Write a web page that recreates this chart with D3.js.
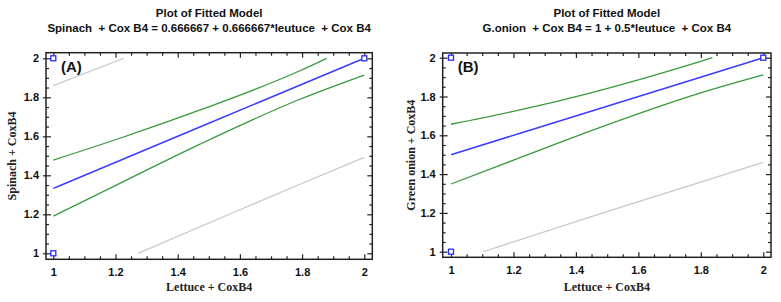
<!DOCTYPE html>
<html>
<head>
<meta charset="utf-8">
<script src="https://cdn.jsdelivr.net/npm/d3@7"></script>
<style>
  body { margin: 0; background: #fff; }
  svg { display: block; }
</style>
</head>
<body>
<svg id="chart" width="781" height="302"></svg>
<script>
// Tick values shared by both panels
const xTicks = [1, 1.2, 1.4, 1.6, 1.8, 2];
const yTicks = [1, 1.2, 1.4, 1.6, 1.8, 2];
const xTickLabels = ["1", "1.2", "1.4", "1.6", "1.8", "2"];
const yTickLabels = ["1", "1.2", "1.4", "1.6", "1.8", "2"];
const minorTicks = [1.05, 1.1, 1.15, 1.25, 1.3, 1.35, 1.45, 1.5, 1.55, 1.65, 1.7, 1.75, 1.85, 1.9, 1.95];

// Panel A - spinach
const spinachObs = [[1, 1], [1, 2], [2, 2]];
const spinachFitted = [[1, 1.333], [1.5, 1.667], [2, 2.0]];
const spinachUpperCL = [[1, 1.478], [1.214, 1.590], [1.472, 1.735], [1.793, 1.936], [1.879, 2.0]];
const spinachLowerCL = [[1, 1.191], [1.214, 1.359], [1.472, 1.560], [1.793, 1.790], [2, 1.914]];
const spinachUpperPL = [[1, 1.86], [1.227, 2.0]];
const spinachLowerPL = [[1.273, 1.0], [1.6, 1.223], [1.793, 1.354], [2, 1.492]];

// Panel B - green onion
const onionObs = [[1, 1], [1, 2], [2, 2]];
const onionFitted = [[1, 1.5], [1.5, 1.75], [2, 2.0]];
const onionUpperCL = [[1, 1.657], [1.221, 1.731], [1.445, 1.818], [1.797, 1.980], [1.837, 2.0]];
const onionLowerCL = [[1, 1.349], [1.221, 1.485], [1.445, 1.622], [1.797, 1.818], [2, 1.912]];
const onionLowerPL = [[1.103, 1.0], [1.509, 1.212], [1.797, 1.357], [2, 1.461]];

const panels = [
  {
    title: "Plot of Fitted Model",
    subtitle: "Spinach  + Cox B4 = 0.666667 + 0.666667*leutuce  + Cox B4",
    tag: "(A)",
    yTitle: "Spinach + CoxB4",
    xTitle: "Lettuce + CoxB4",
    obs: spinachObs, fitted: spinachFitted,
    cl: [spinachUpperCL, spinachLowerCL],
    pl: [spinachUpperPL, spinachLowerPL],
    xRange: [53.3, 364.3], yRange: [253.3, 58.3],
    frame: { x0: 46, x1: 372.3, y0: 52.7, y1: 259.3 },
    yTitleX: 15.5
  },
  {
    title: "Plot of Fitted Model",
    subtitle: "G.onion  + Cox B4 = 1 + 0.5*leutuce  + Cox B4",
    tag: "(B)",
    yTitle: "Green onion + CoxB4",
    xTitle: "Lettuce + CoxB4",
    obs: onionObs, fitted: onionFitted,
    cl: [onionUpperCL, onionLowerCL],
    pl: [onionLowerPL],
    xRange: [451, 763.3], yRange: [251.7, 57.7],
    frame: { x0: 442.7, x1: 771, y0: 53, y1: 257.3 },
    yTitleX: 415
  }
];

const svg = d3.select("#chart");
const sans = "'Liberation Sans', Arial, sans-serif";
const serif = "'Liberation Serif', 'Times New Roman', serif";

panels.forEach(p => {
  const x = d3.scaleLinear().domain([1, 2]).range(p.xRange);
  const y = d3.scaleLinear().domain([1, 2]).range(p.yRange);
  const f = p.frame;
  const cx = (f.x0 + f.x1) / 2;
  const g = svg.append("g");

  // Titles
  g.append("text")
    .attr("x", cx).attr("y", 16.5)
    .attr("text-anchor", "middle")
    .style("font-family", sans).style("font-weight", "bold").style("font-size", "11.5px")
    .attr("fill", "#111")
    .text(p.title);

  g.append("text")
    .attr("x", cx).attr("y", 31.5)
    .attr("text-anchor", "middle")
    .style("font-family", sans).style("font-weight", "bold").style("font-size", "11.5px")
    .attr("fill", "#111")
    .style("white-space", "pre")
    .text(p.subtitle);

  // Clip lines to the frame
  const clipId = "clip" + p.tag.replace(/\W/g, "");
  svg.append("clipPath").attr("id", clipId)
    .append("rect")
    .attr("x", f.x0).attr("y", f.y0)
    .attr("width", f.x1 - f.x0).attr("height", f.y1 - f.y0);

  const line = d3.line().curve(d3.curveMonotoneX).x(d => x(d[0])).y(d => y(d[1]));
  const plot = g.append("g").attr("clip-path", `url(#${clipId})`);

  p.pl.forEach(s => {
    plot.append("path").datum(s)
      .attr("fill", "none").attr("stroke", "#c8c8c8").attr("stroke-width", 1.2)
      .attr("d", line);
  });
  p.cl.forEach(s => {
    plot.append("path").datum(s)
      .attr("fill", "none").attr("stroke", "#3a9a3a").attr("stroke-width", 1.3)
      .attr("d", line);
  });
  plot.append("path").datum(p.fitted)
    .attr("fill", "none").attr("stroke", "#3c3cff").attr("stroke-width", 1.5)
    .attr("d", line);

  // Frame
  g.append("rect")
    .attr("x", f.x0).attr("y", f.y0)
    .attr("width", f.x1 - f.x0).attr("height", f.y1 - f.y0)
    .attr("fill", "none").attr("stroke", "#222").attr("stroke-width", 1.5);

  // Axes: major ticks with labels, minor ticks inward
  const styleAxis = sel => {
    sel.select(".domain").remove();
    sel.selectAll("line").attr("stroke", "#222").attr("stroke-width", 1.2);
    sel.selectAll("text")
      .style("font-family", sans).style("font-weight", "bold").style("font-size", "11px")
      .attr("fill", "#111");
  };

  g.append("g").attr("transform", `translate(0,${f.y1})`)
    .call(d3.axisBottom(x).tickValues(xTicks).tickSizeInner(-5).tickSizeOuter(0)
      .tickPadding(9).tickFormat((d, i) => xTickLabels[i]))
    .call(styleAxis);
  g.append("g").attr("transform", `translate(0,${f.y1})`)
    .call(d3.axisBottom(x).tickValues(minorTicks).tickSizeInner(-3).tickSizeOuter(0).tickFormat(""))
    .call(styleAxis);
  g.append("g").attr("transform", `translate(0,${f.y0})`)
    .call(d3.axisTop(x).tickValues(xTicks).tickSizeInner(-5).tickSizeOuter(0).tickFormat(""))
    .call(styleAxis);
  g.append("g").attr("transform", `translate(0,${f.y0})`)
    .call(d3.axisTop(x).tickValues(minorTicks).tickSizeInner(-3).tickSizeOuter(0).tickFormat(""))
    .call(styleAxis);

  const left = g.append("g").attr("transform", `translate(${f.x0},0)`)
    .call(d3.axisLeft(y).tickValues(yTicks).tickSizeInner(-5).tickSizeOuter(0)
      .tickPadding(7).tickFormat((d, i) => yTickLabels[i]))
    .call(styleAxis);
  // major ticks on the left cross the frame a little
  left.selectAll(".tick line").attr("x1", -3).attr("x2", 5);
  left.selectAll(".tick text").attr("x", -7);

  g.append("g").attr("transform", `translate(${f.x0},0)`)
    .call(d3.axisLeft(y).tickValues(minorTicks).tickSizeInner(-3).tickSizeOuter(0).tickFormat(""))
    .call(styleAxis);
  g.append("g").attr("transform", `translate(${f.x1},0)`)
    .call(d3.axisRight(y).tickValues(yTicks).tickSizeInner(-5).tickSizeOuter(0).tickFormat(""))
    .call(styleAxis);
  g.append("g").attr("transform", `translate(${f.x1},0)`)
    .call(d3.axisRight(y).tickValues(minorTicks).tickSizeInner(-3).tickSizeOuter(0).tickFormat(""))
    .call(styleAxis);

  // Observed points
  g.selectAll(".obs").data(p.obs).enter().append("rect")
    .attr("class", "obs")
    .attr("x", d => x(d[0]) - 2.5).attr("y", d => y(d[1]) - 2.5)
    .attr("width", 5).attr("height", 5)
    .attr("fill", "#fff").attr("stroke", "#2a2aff").attr("stroke-width", 1.3);

  // Panel tag
  g.append("text")
    .attr("x", f.x0 + 15).attr("y", 71.5)
    .style("font-family", sans).style("font-weight", "bold").style("font-size", "15px")
    .attr("fill", "#111")
    .text(p.tag);

  // Axis titles
  g.append("text")
    .attr("x", cx).attr("y", 291)
    .attr("text-anchor", "middle")
    .style("font-family", serif).style("font-weight", "bold").style("font-size", "12px")
    .attr("fill", "#222")
    .text(p.xTitle);

  g.append("text")
    .attr("transform", `translate(${p.yTitleX},${(f.y0 + f.y1) / 2}) rotate(-90)`)
    .attr("text-anchor", "middle")
    .style("font-family", serif).style("font-weight", "bold").style("font-size", "12px")
    .attr("fill", "#222")
    .text(p.yTitle);
});
</script>
</body>
</html>
